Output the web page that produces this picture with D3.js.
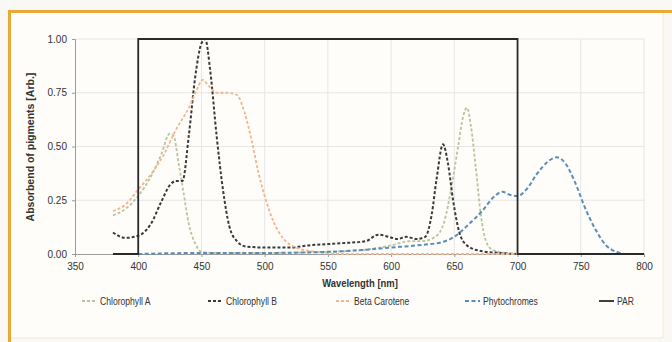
<!DOCTYPE html>
<html>
<head>
<script src="https://d3js.org/d3.v7.min.js"></script>
<style>
  body { margin: 0; background: #f9f8f4; }
  svg { display: block; }
  text { font-family: "Liberation Sans Narrow", "Liberation Sans", Arial, sans-serif; fill: #333; }
</style>
</head>
<body>
<svg width="672" height="342"></svg>
<script>
// wavelength [nm], absorbance [Arb.]
var chlA = [[380,0.18],[390,0.21],[400,0.27],[410,0.36],[418,0.46],[425,0.56],[428,0.55],[432,0.42],[436,0.28],[440,0.14],[445,0.05],[450,0.01],[460,0.005],[500,0.005],[550,0.01],[580,0.02],[600,0.04],[615,0.06],[625,0.06],[635,0.08],[642,0.15],[648,0.32],[653,0.5],[657,0.64],[660,0.68],[663,0.6],[667,0.4],[671,0.18],[675,0.06],[680,0.02],[690,0.005],[700,0]];
var chlB = [[380,0.1],[390,0.075],[400,0.085],[410,0.14],[418,0.24],[425,0.32],[430,0.34],[435,0.34],[440,0.55],[445,0.82],[450,0.98],[453,1.0],[457,0.85],[462,0.55],[467,0.3],[472,0.13],[478,0.06],[485,0.035],[500,0.03],[520,0.03],[535,0.04],[560,0.05],[580,0.06],[590,0.09],[598,0.08],[605,0.07],[612,0.08],[620,0.07],[627,0.08],[632,0.18],[636,0.35],[641,0.51],[645,0.42],[649,0.25],[654,0.1],[660,0.04],[670,0.015],[685,0.005],[700,0]];
var beta = [[380,0.2],[390,0.23],[400,0.3],[410,0.37],[420,0.46],[430,0.58],[440,0.68],[446,0.76],[451,0.81],[456,0.78],[462,0.75],[470,0.75],[478,0.74],[484,0.66],[490,0.52],[495,0.38],[500,0.27],[507,0.15],[515,0.07],[525,0.03],[540,0.01],[560,0],[800,0]];
var phyto = [[400,0],[450,0.005],[500,0.005],[550,0.01],[580,0.02],[600,0.03],[620,0.04],[640,0.055],[650,0.08],[660,0.13],[672,0.2],[682,0.27],[688,0.29],[694,0.275],[700,0.27],[707,0.3],[715,0.37],[724,0.43],[731,0.45],[738,0.42],[745,0.34],[753,0.22],[762,0.11],[770,0.04],[778,0.01],[785,0]];
var par = [[380,0],[400,0],[400,1],[700,1],[700,0],[800,0]];
var xTicks = [350,400,450,500,550,600,650,700,750,800];
var yTicks = [0,0.25,0.5,0.75,1];

var svg = d3.select("svg");

// frame
svg.append("rect").attr("x", 9).attr("y", 11).attr("width", 654).attr("height", 326)
  .attr("fill", "#fefdf9").attr("stroke", "none");
svg.append("line").attr("x1", 8).attr("x2", 672).attr("y1", 11.5).attr("y2", 11.5)
  .attr("stroke", "#e8a935").attr("stroke-width", 3);
svg.append("line").attr("x1", 9.5).attr("x2", 9.5).attr("y1", 10).attr("y2", 342)
  .attr("stroke", "#e8a935").attr("stroke-width", 3);
svg.append("line").attr("x1", 663).attr("x2", 663).attr("y1", 13).attr("y2", 338)
  .attr("stroke", "#f6ecd2").attr("stroke-width", 1);
svg.append("line").attr("x1", 11).attr("x2", 663).attr("y1", 338).attr("y2", 338)
  .attr("stroke", "#f6ecd2").attr("stroke-width", 1);

var x = d3.scaleLinear().domain([350, 800]).range([75, 644]);
var y = d3.scaleLinear().domain([0, 1]).range([254, 39]);

// grid
svg.append("g").selectAll("line").data(xTicks.slice(1)).enter().append("line")
  .attr("x1", d => x(d)).attr("x2", d => x(d)).attr("y1", y(1)).attr("y2", y(0))
  .attr("stroke", "#e6e6e6");
svg.append("g").selectAll("line").data(yTicks.slice(1)).enter().append("line")
  .attr("x1", x(350)).attr("x2", x(800)).attr("y1", d => y(d)).attr("y2", d => y(d))
  .attr("stroke", "#e6e6e6");

var ax = svg.append("g").attr("transform", "translate(0," + y(0) + ")")
  .call(d3.axisBottom(x).tickValues(xTicks).tickSize(3).tickPadding(6).tickFormat(d3.format("d")));
var ay = svg.append("g").attr("transform", "translate(" + x(350) + ",0)")
  .call(d3.axisLeft(y).tickValues(yTicks).tickSize(3).tickPadding(5).tickFormat(d3.format(".2f")));
[ax, ay].forEach(function(a) {
  a.select(".domain").attr("stroke", "#9a9a9a");
  a.selectAll(".tick line").attr("stroke", "#9a9a9a");
  a.selectAll("text").attr("font-size", 10).attr("fill", "#333")
    .attr("font-family", "'Liberation Sans Narrow', 'Liberation Sans', Arial, sans-serif");
});

svg.append("text").attr("transform", "translate(360,287) scale(0.9,1)").attr("text-anchor", "middle")
  .attr("font-size", 10.5).attr("font-weight", "bold").text("Wavelength [nm]");
svg.append("text").attr("transform", "translate(34,147) rotate(-90)").attr("text-anchor", "middle")
  .attr("font-size", 10.5).attr("font-weight", "bold").text("Absorbend of pigments [Arb.]");

var line = d3.line().x(d => x(d[0])).y(d => y(d[1])).curve(d3.curveMonotoneX);
var lineLin = d3.line().x(d => x(d[0])).y(d => y(d[1]));

var series = [
  {name: "Chlorophyll A", data: chlA, color: "#b7c49c", dash: "3,2", w: 1.8},
  {name: "Chlorophyll B", data: chlB, color: "#3a3a3a", dash: "3,2", w: 2},
  {name: "Beta Carotene", data: beta, color: "#f1b58f", dash: "3,2", w: 1.8},
  {name: "Phytochromes", data: phyto, color: "#5b8db8", dash: "4,2.5", w: 2},
  {name: "PAR", data: par, color: "#2a2a2a", dash: null, w: 1.8}
];

svg.append("g").selectAll("path").data(series).enter().append("path")
  .attr("d", d => d.dash ? line(d.data) : lineLin(d.data))
  .attr("fill", "none").attr("stroke", d => d.color).attr("stroke-width", d => d.w)
  .attr("stroke-dasharray", d => d.dash);

// legend
var legX = [82, 208, 336, 465, 599];
var leg = svg.append("g").selectAll("g").data(series).enter().append("g")
  .attr("transform", (d, i) => "translate(" + legX[i] + ",301)");
leg.append("line").attr("x1", 0).attr("x2", 15).attr("y1", 0).attr("y2", 0)
  .attr("stroke", d => d.color).attr("stroke-width", d => d.w)
  .attr("stroke-dasharray", d => d.dash);
leg.append("text").attr("transform", "translate(18,3.5) scale(0.86,1)")
  .attr("font-size", 10).text(d => d.name);
</script>
</body>
</html>
